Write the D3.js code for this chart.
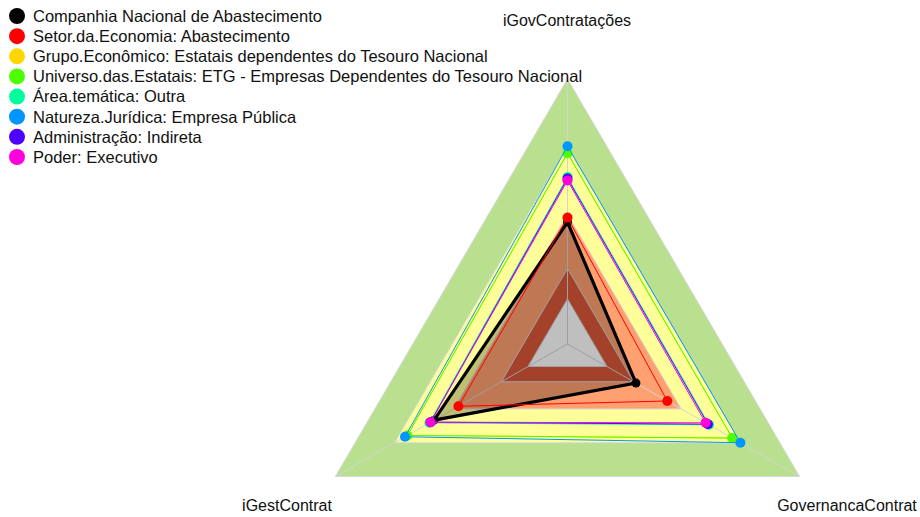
<!DOCTYPE html>
<html>
<head>
<meta charset="utf-8">
<script src="https://cdn.jsdelivr.net/npm/d3@7"></script>
<style>
  html, body { margin: 0; padding: 0; background: #ffffff; }
  svg { display: block; font-family: "Liberation Sans", Arial, sans-serif; }
</style>
</head>
<body>
<svg id="chart" width="920" height="517"></svg>
<script>
// ---- data ----
const axes = ["iGovContratações", "GovernancaContrat", "iGestContrat"];
const seriesNames = [
  "Companhia Nacional de Abastecimento",
  "Setor.da.Economia: Abastecimento",
  "Grupo.Econômico: Estatais dependentes do Tesouro Nacional",
  "Universo.das.Estatais: ETG - Empresas Dependentes do Tesouro Nacional",
  "Área.temática: Outra",
  "Natureza.Jurídica: Empresa Pública",
  "Administração: Indireta",
  "Poder: Executivo"
];
const seriesColors = ["#000000", "#ff0000", "#ffd700", "#4dff00", "#00ff9c", "#0096ff", "#4d00ff", "#ff00dd"];
// values in axis order: iGovContratações, GovernancaContrat, iGestContrat
const companhia   = [0.46, 0.295, 0.575];
const setor       = [0.477, 0.43, 0.47];
const grupo       = [0.72, 0.71, 0.69];
const universo    = [0.72, 0.71, 0.69];
const area        = [0.63, 0.61, 0.595];
const natureza    = [0.746, 0.745, 0.70];
const administracao = [0.625, 0.605, 0.59];
const poder       = [0.617, 0.595, 0.59];
const seriesValues = [companhia, setor, grupo, universo, area, natureza, administracao, poder];
// background bands (outer limits) and colours
const bandLevels = [1.0, 0.745, 0.49, 0.285, 0.17];
const bandColors = ["#b9e08f", "#ffff99", "#ffa070", "#db573a", "#ffffff"];

// ---- layout ----
const svg = d3.select("#chart");
const cx = 567.5, cy = 344;
const rX = d3.scaleLinear().domain([0, 1]).range([0, 268]);
const rY = d3.scaleLinear().domain([0, 1]).range([0, 265]);
// three axes: top, bottom-right, bottom-left
const angleOf = d3.scaleLinear().domain([0, axes.length]).range([-Math.PI / 2, 1.5 * Math.PI]);
const pt = (v, i) => [cx + rX(v) * Math.cos(angleOf(i)), cy + rY(v) * Math.sin(angleOf(i))];
const line = d3.line().curve(d3.curveLinearClosed);

// bands
svg.append("g").selectAll("path").data(bandLevels).join("path")
  .attr("d", lv => line(axes.map((a, i) => pt(lv, i))))
  .attr("fill", (d, i) => bandColors[i])
  .attr("stroke", "#d8d8d8")
  .attr("stroke-width", 1);

// axis spokes
svg.append("g").selectAll("line").data(axes).join("line")
  .attr("x1", cx).attr("y1", cy)
  .attr("x2", (a, i) => pt(1, i)[0])
  .attr("y2", (a, i) => pt(1, i)[1])
  .attr("stroke", "#d4d4d4")
  .attr("stroke-width", 1);

// series
const gS = svg.append("g");
seriesValues.forEach((vals, s) => {
  const pts = vals.map((v, i) => pt(v, i));
  gS.append("path")
    .attr("d", line(pts))
    .attr("fill", s === 0 ? "rgba(0,0,0,0.25)" : "none")
    .attr("stroke", seriesColors[s])
    .attr("stroke-width", s === 0 ? 3.2 : 1)
    .attr("stroke-linejoin", "miter");
  gS.selectAll(null).data(pts).join("circle")
    .attr("cx", d => d[0]).attr("cy", d => d[1])
    .attr("r", s === 0 ? 4.5 : 5)
    .attr("fill", seriesColors[s]);
});

// axis labels
const labelPos = [[567, 26, "middle"], [847, 511, "middle"], [287, 511, "middle"]];
svg.append("g").selectAll("text").data(axes).join("text")
  .attr("x", (a, i) => labelPos[i][0])
  .attr("y", (a, i) => labelPos[i][1])
  .attr("text-anchor", (a, i) => labelPos[i][2])
  .attr("font-size", 16)
  .attr("fill", "#111")
  .text(a => a);

// legend
const leg = svg.append("g");
const rowY = d3.scaleLinear().domain([0, 7]).range([16, 157]);
leg.selectAll("circle").data(seriesNames).join("circle")
  .attr("cx", 17).attr("cy", (d, i) => rowY(i)).attr("r", 8)
  .attr("fill", (d, i) => seriesColors[i]);
leg.selectAll("text").data(seriesNames).join("text")
  .attr("x", 33).attr("y", (d, i) => rowY(i) + 5.8)
  .attr("font-size", 16.5)
  .attr("fill", "#111")
  .text(d => d);
</script>
</body>
</html>
